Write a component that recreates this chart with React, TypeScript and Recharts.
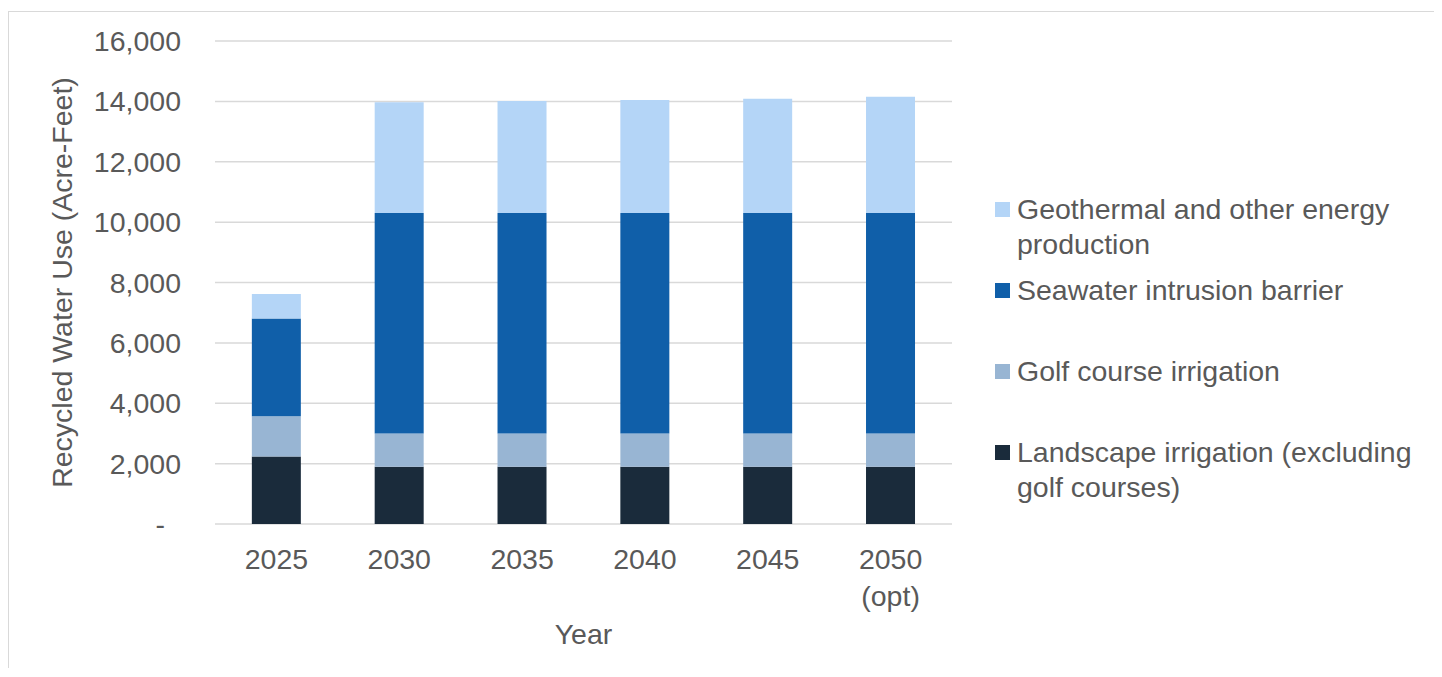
import { BarChart, Bar, XAxis, YAxis, CartesianGrid, Legend, Label } from 'recharts'

const years = ['2025', '2030', '2035', '2040', '2045', '2050 (opt)']
const landscape = [2240, 1900, 1900, 1900, 1900, 1900]
const golf = [1330, 1100, 1100, 1100, 1100, 1100]
const seawater = [3240, 7300, 7300, 7300, 7300, 7300]
const geothermal = [810, 3670, 3710, 3745, 3790, 3850]
const yTicks = [0, 2000, 4000, 6000, 8000, 10000, 12000, 14000, 16000]

const series = [
  { key: 'landscape', name: 'Landscape irrigation (excluding golf courses)', color: '#1a2b3b' },
  { key: 'golf', name: 'Golf course irrigation', color: '#98b5d3' },
  { key: 'seawater', name: 'Seawater intrusion barrier', color: '#105fa9' },
  { key: 'geothermal', name: 'Geothermal and other energy production', color: '#b4d5f7' },
]

const data = years.map((year, i) => ({
  year,
  landscape: landscape[i],
  golf: golf[i],
  seawater: seawater[i],
  geothermal: geothermal[i],
}))

const FONT = '"Liberation Sans", Arial, sans-serif'
const TEXT = '#595959'
const SIZE = 28.5

const YTick = ({ x, y, payload }: any) => (
  <text
    x={payload.value === 0 ? x - 16 : x}
    y={y}
    textAnchor="end"
    dominantBaseline="central"
    fill={TEXT}
    fontSize={SIZE}
    fontFamily={FONT}
  >
    {payload.value === 0 ? '-' : payload.value.toLocaleString('en-US')}
  </text>
)

const XTick = ({ x, y, payload }: any) => {
  const lines = String(payload.value).split(' ')
  return (
    <text textAnchor="middle" fill={TEXT} fontSize={SIZE} fontFamily={FONT}>
      {lines.map((line, i) => (
        <tspan key={i} x={x} y={y + 35 + i * 37} dominantBaseline="central">
          {line}
        </tspan>
      ))}
    </text>
  )
}

// legend reads top to bottom in the reverse of the stacking order
const renderLegend = ({ payload }: any) => {
  const order = series.map((s) => s.name).reverse()
  const items = [...(payload || [])].sort(
    (a: any, b: any) => order.indexOf(a.value) - order.indexOf(b.value)
  )
  return (
    <div style={{ fontFamily: FONT, fontSize: SIZE, color: TEXT }}>
      {items.map((item: any) => (
        <div key={item.value} style={{ display: 'flex', alignItems: 'flex-start', height: 81 }}>
          <div
            style={{
              width: 15,
              height: 15,
              marginTop: 10,
              marginRight: 7,
              background: item.color,
              flexShrink: 0,
            }}
          />
          <div style={{ width: 415, lineHeight: '35px' }}>{item.value}</div>
        </div>
      ))}
    </div>
  )
}

const App = () => {
  return (
    <div style={{ position: 'relative', width: 1434, height: 660, overflow: 'hidden', background: '#fff' }}>
      <div
        style={{
          position: 'absolute',
          left: 0,
          top: 3,
          width: 1600,
          height: 800,
          borderTop: '1px solid #d9d9d9',
          borderLeft: '1px solid #d9d9d9',
        }}
      />
      <div style={{ position: 'absolute', left: 0, top: 0 }}>
        <BarChart
          width={1434}
          height={660}
          data={data}
          margin={{ top: 33, right: 490, bottom: 0, left: 0 }}
          barCategoryGap="30%"
        >
          <CartesianGrid vertical={false} stroke="#d9d9d9" strokeWidth={1.5} />
          <XAxis
            dataKey="year"
            height={144}
            axisLine={false}
            tickLine={false}
            tickSize={0}
            tickMargin={0}
            tick={<XTick />}
            interval={0}
          >
            <Label
              content={({ viewBox }: any) => (
                <text
                  x={viewBox.x + viewBox.width / 2}
                  y={626}
                  textAnchor="middle"
                  dominantBaseline="central"
                  fill={TEXT}
                  fontSize={SIZE}
                  fontFamily={FONT}
                >
                  Year
                </text>
              )}
            />
          </XAxis>
          <YAxis
            width={207}
            domain={[0, 16000]}
            ticks={yTicks}
            axisLine={false}
            tickLine={false}
            tickSize={0}
            tickMargin={34}
            tick={<YTick />}
            interval={0}
          >
            <Label
              content={({ viewBox }: any) => {
                const cy = viewBox.y + viewBox.height / 2
                return (
                  <text
                    x={54}
                    y={cy}
                    transform={`rotate(-90, 54, ${cy})`}
                    textAnchor="middle"
                    dominantBaseline="central"
                    fill={TEXT}
                    fontSize={SIZE}
                    fontFamily={FONT}
                  >
                    Recycled Water Use (Acre-Feet)
                  </text>
                )
              }}
            />
          </YAxis>
          <Legend
            layout="horizontal"
            verticalAlign="middle"
            content={renderLegend}
            wrapperStyle={{ position: 'absolute', left: 987, top: 184, width: 440 }}
          />
          {series.map((s) => (
            <Bar
              key={s.key}
              dataKey={s.key}
              name={s.name}
              stackId="use"
              fill={s.color}
              isAnimationActive={false}
            />
          ))}
        </BarChart>
      </div>
    </div>
  )
}

export default App
